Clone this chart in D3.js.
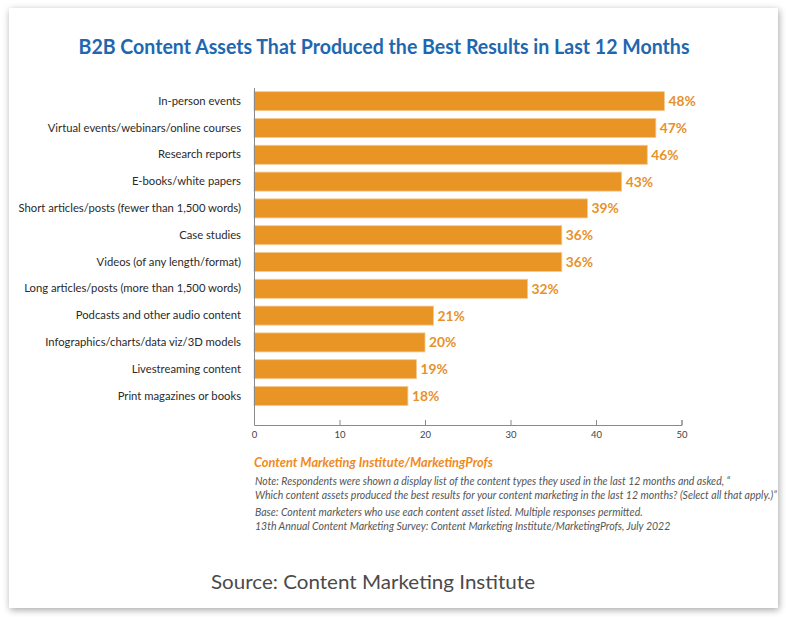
<!DOCTYPE html>
<html>
<head>
<meta charset="utf-8">
<script src="https://cdn.jsdelivr.net/npm/d3@7"></script>
<style>
  html, body { margin: 0; padding: 0; background: #ffffff; }
  svg { display: block; }
</style>
</head>
<body>
<svg id="chart" width="786" height="617"></svg>
<script>
const categories = [
  "In-person events",
  "Virtual events/webinars/online courses",
  "Research reports",
  "E-books/white papers",
  "Short articles/posts (fewer than 1,500 words)",
  "Case studies",
  "Videos (of any length/format)",
  "Long articles/posts (more than 1,500 words)",
  "Podcasts and other audio content",
  "Infographics/charts/data viz/3D models",
  "Livestreaming content",
  "Print magazines or books"
];
const values = [48, 47, 46, 43, 39, 36, 36, 32, 21, 20, 19, 18];
const xTicks = [0, 10, 20, 30, 40, 50];
const title = "B2B Content Assets That Produced the Best Results in Last 12 Months";
const sourceOrg = "Content Marketing Institute/MarketingProfs";
const notes = [
  "Note: Respondents were shown a display list of the content types they used in the last 12 months and asked, \u201C",
  "Which content assets produced the best results for your content marketing in the last 12 months? (Select all that apply.)\u201D",
  "Base: Content marketers who use each content asset listed. Multiple responses permitted.",
  "13th Annual Content Marketing Survey: Content Marketing Institute/MarketingProfs, July 2022"
];
const sourceLine = "Source: Content Marketing Institute";

const svg = d3.select("#chart");

// card with shadow
const defs = svg.append("defs");
const f = defs.append("filter").attr("id", "shadow")
  .attr("x", "-5%").attr("y", "-5%").attr("width", "110%").attr("height", "110%");
f.append("feDropShadow").attr("dx", 1).attr("dy", 2).attr("stdDeviation", 3.5)
  .attr("flood-color", "#000").attr("flood-opacity", 0.35);
svg.append("rect").attr("x", 9).attr("y", 8).attr("width", 769).attr("height", 600)
  .attr("fill", "#ffffff").attr("filter", "url(#shadow)");

// title
svg.append("text")
  .attr("x", 78.5).attr("y", 54)
  .attr("textLength", 611).attr("lengthAdjust", "spacingAndGlyphs")
  .attr("font-family", "Lato, 'Open Sans', sans-serif")
  .attr("font-weight", 700).attr("font-size", 20)
  .attr("fill", "#2067b0")
  .text(title);

const x = d3.scaleLinear().domain([0, 50]).range([254, 681.5]);
const y = d3.scaleBand().domain(categories).range([83.9, 413.3]).padding(0.29);

const barColor = "#e99526";

// bars
svg.append("g").selectAll("rect").data(values).join("rect")
  .attr("x", x(0))
  .attr("y", (d, i) => y(categories[i]))
  .attr("width", d => x(d) - x(0))
  .attr("height", y.bandwidth())
  .attr("fill", barColor)
  .attr("stroke", "#f6c98f").attr("stroke-width", 0.8);

// value labels
svg.append("g").selectAll("text").data(values).join("text")
  .attr("x", d => x(d) + 4)
  .attr("y", (d, i) => y(categories[i]) + y.bandwidth() / 2)
  .attr("dy", "0.36em")
  .attr("font-family", "Lato, 'Open Sans', sans-serif")
  .attr("font-weight", 700).attr("font-size", 13.8)
  .attr("fill", "#e8912b")
  .text(d => d + "%");

// category axis (labels)
const yAxis = d3.axisLeft(y).tickSize(0).tickPadding(13);
const gy = svg.append("g").attr("transform", `translate(${x(0)},0)`).call(yAxis);
gy.select(".domain").remove();
gy.selectAll("text")
  .attr("font-family", "Lato, 'Open Sans', sans-serif")
  .attr("font-size", 11.25).attr("fill", "#2a2a2a");

// vertical axis line
svg.append("line")
  .attr("x1", x(0) + 0.5).attr("x2", x(0) + 0.5)
  .attr("y1", 88).attr("y2", 425)
  .attr("stroke", "#8a8a8a").attr("stroke-width", 1);

// x axis
const xAxis = d3.axisBottom(x).tickValues(xTicks).tickSizeInner(-5).tickSizeOuter(-5).tickPadding(6);
const gx = svg.append("g").attr("transform", "translate(0,425)").call(xAxis);
gx.select(".domain").attr("stroke", "#8a8a8a");
gx.selectAll(".tick line").attr("stroke", "#8a8a8a");
gx.selectAll("text")
  .attr("font-family", "Lato, 'Open Sans', sans-serif")
  .attr("font-size", 9.5).attr("fill", "#444");

// footnotes
svg.append("text")
  .attr("x", 254).attr("y", 467)
  .attr("font-family", "Lato, 'Open Sans', sans-serif")
  .attr("font-weight", 700).attr("font-style", "italic").attr("font-size", 12.8)
  .attr("fill", "#f08a1c")
  .text(sourceOrg);

const noteY = [485, 499, 516, 530];
svg.append("g").selectAll("text").data(notes).join("text")
  .attr("x", 255)
  .attr("y", (d, i) => noteY[i])
  .attr("font-family", "Lato, 'Open Sans', sans-serif")
  .attr("font-style", "italic").attr("font-size", 10.5)
  .attr("fill", "#555")
  .text(d => d);

// source
svg.append("text")
  .attr("x", 211).attr("y", 589)
  .attr("textLength", 324).attr("lengthAdjust", "spacingAndGlyphs")
  .attr("font-family", "Lato, 'Noto Sans', sans-serif")
  .attr("font-size", 20)
  .attr("fill", "#4a4a4a")
  .text(sourceLine);
</script>
</body>
</html>
